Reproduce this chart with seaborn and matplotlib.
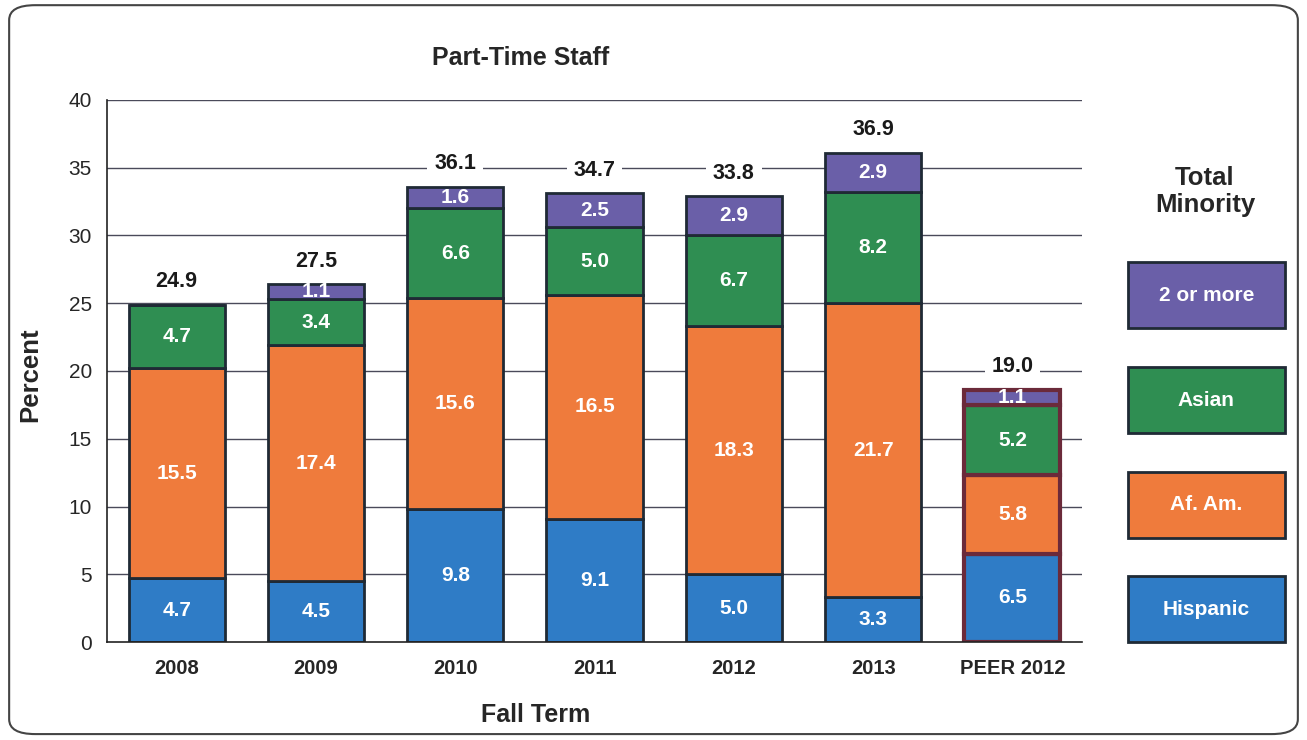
import numpy as np
import matplotlib
matplotlib.use("Agg")
import matplotlib.pyplot as plt
from matplotlib.patches import FancyBboxPatch, Rectangle
import seaborn as sns

# data
terms = ["2008", "2009", "2010", "2011", "2012", "2013", "PEER 2012"]
hispanic = [4.7, 4.5, 9.8, 9.1, 5.0, 3.3, 6.5]
af_am = [15.5, 17.4, 15.6, 16.5, 18.3, 21.7, 5.8]
asian = [4.7, 3.4, 6.6, 5.0, 6.7, 8.2, 5.2]
two_more = [0.0, 1.1, 1.6, 2.5, 2.9, 2.9, 1.1]
totals = ["24.9", "27.5", "36.1", "34.7", "33.8", "36.9", "19.0"]

series = [("Hispanic", hispanic, "#2f7cc6"),
          ("Af. Am.", af_am, "#ef7b3c"),
          ("Asian", asian, "#2f8e52"),
          ("2 or more", two_more, "#6a5fa8")]

sns.set_style("white")
plt.rcParams["font.family"] = ["Liberation Sans", "DejaVu Sans"]

fig = plt.figure(figsize=(13.07, 7.40), dpi=100)
ax = fig.add_axes([0.0819, 0.1324, 0.746, 0.7325])

# y gridlines behind bars
for y in range(5, 41, 5):
    ax.axhline(y, color="#4a4a5a", lw=1.0, zorder=0)

edges = ["#1f2a35"] * 6 + ["#6b2a3a"]
lws = [2.0] * 6 + [3.0]
bottom = np.zeros(len(terms))
for name, vals, col in series:
    vals = np.array(vals)
    sns.barplot(x=terms, y=vals, bottom=bottom, color=col, width=0.69,
                edgecolor=edges, linewidth=lws, saturation=1, ax=ax, zorder=2)
    for i, v in enumerate(vals):
        if v > 0:
            ax.text(i, bottom[i] + v / 2, f"{v:.1f}", ha="center", va="center",
                    color="white", fontsize=15, fontweight="bold", zorder=4)
    bottom = bottom + vals

for i, t in enumerate(totals):
    ax.text(i, bottom[i] + 1.7, t, ha="center", va="center", fontsize=15.5,
            fontweight="bold", color="#1a1a1a", zorder=4,
            bbox=dict(facecolor="white", edgecolor="none", pad=5))

ax.set_ylim(0, 40)
ax.set_xlim(-0.5, 6.5)
ax.set_yticks(range(0, 41, 5))
ax.tick_params(axis="y", labelsize=15, length=8, direction="inout", width=1,
               pad=7)
ax.set_xticks(range(len(terms)))
ax.set_xticklabels(terms, fontsize=14.5, fontweight="bold")
ax.tick_params(axis="x", length=0, pad=12)
ax.set_xticks(np.arange(-0.5, 7, 1), minor=True)
ax.tick_params(axis="x", which="minor", length=7, width=1)
for s in ["top", "right"]:
    ax.spines[s].set_visible(False)
for s in ["left", "bottom"]:
    ax.spines[s].set_color("#222222")
    ax.spines[s].set_linewidth(1.2)
ax.set_xlabel("")
ax.set_ylabel("")

fig.text(0.398, 0.921, "Part-Time Staff", ha="center", va="center",
         fontsize=18, fontweight="bold")
fig.text(0.41, 0.034, "Fall Term", ha="center", va="center",
         fontsize=18, fontweight="bold")
fig.text(0.023, 0.493, "Percent", ha="center", va="center", rotation=90,
         fontsize=18.5, fontweight="bold")

# legend drawn as boxes on the right
fig.text(0.922, 0.741, "Total\nMinority", ha="center", va="center",
         fontsize=18.5, fontweight="bold", linespacing=1.15)
leg_y = [0.601, 0.459, 0.318, 0.177]
for (name, vals, col), yc in zip(series[::-1], leg_y):
    fig.patches.append(Rectangle((0.863, yc - 0.0445), 0.12, 0.089,
                                 transform=fig.transFigure, facecolor=col,
                                 edgecolor="#1f2a35", lw=2))
    fig.text(0.923, yc, name, ha="center", va="center", color="white",
             fontsize=15, fontweight="bold")

fig.patches.append(FancyBboxPatch((0.007, 0.008), 0.986, 0.985,
                                  boxstyle="round,pad=0,rounding_size=0.02",
                                  transform=fig.transFigure, facecolor="none",
                                  edgecolor="#444444", lw=1.5))

fig.savefig("out.png", dpi=100)
